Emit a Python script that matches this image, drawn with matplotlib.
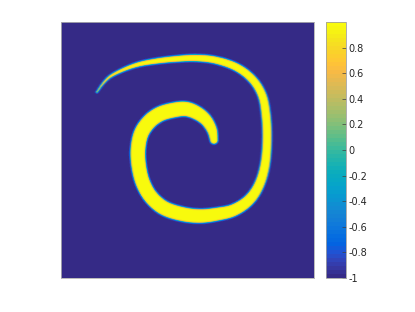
import numpy as np
import matplotlib
matplotlib.use("Agg")
import matplotlib.pyplot as plt
from matplotlib.colors import LinearSegmentedColormap

# spiral centre line (grid cells of a 256x256 field), inner tip -> outer tail
spiral_x = [154.8, 152.8, 146.7, 137.6, 126.5, 114.3, 100.2, 89.0, 81.0, 77.9, 78.9, 83.0,
            91.1, 104.2, 122.4, 140.7, 158.9, 175.1, 190.2, 200.4, 206.4, 208.5, 207.4,
            203.4, 193.3, 177.1, 155.8, 135.6, 115.4, 97.1, 79.9, 64.8, 50.6, 43.0, 36.4]
spiral_y = [118, 108, 98, 91, 87, 88, 92, 100, 112, 128, 145, 161,
            175, 186, 192, 194, 192, 188, 178, 163, 143, 118, 93,
            73, 57, 45, 38, 36, 37, 39, 42, 47, 54, 61, 70]
half_width = [3.8, 5.0, 6.0, 6.8, 7.3, 7.5, 7.5, 7.5, 7.5, 7.5, 7.4, 7.3,
              7.2, 7.2, 7.1, 6.9, 6.5, 6.0, 5.5, 5.0, 4.7, 4.5, 4.5,
              4.3, 4.1, 3.9, 3.6, 3.3, 3.0, 2.7, 2.3, 1.8, 1.3, 0.9, 0.5]

cbar_ticks = [-1, -0.8, -0.6, -0.4, -0.2, 0, 0.2, 0.4, 0.6, 0.8]
cbar_labels = ["-1", "-0.8", "-0.6", "-0.4", "-0.2", "0", "0.2", "0.4", "0.6", "0.8"]

# parula-like colormap
parula_pts = [
    (0.2081, 0.1663, 0.5292), (0.2123, 0.2138, 0.6270), (0.1959, 0.2645, 0.7279),
    (0.1253, 0.3242, 0.8303), (0.0117, 0.3875, 0.8820), (0.0165, 0.4266, 0.8786),
    (0.0498, 0.4586, 0.8641), (0.0723, 0.4887, 0.8467), (0.0793, 0.5200, 0.8312),
    (0.0641, 0.5570, 0.8240), (0.0343, 0.5966, 0.8199), (0.0239, 0.6287, 0.8038),
    (0.0228, 0.6535, 0.7768), (0.0384, 0.6743, 0.7436), (0.0843, 0.6928, 0.7062),
    (0.1453, 0.7098, 0.6646), (0.2178, 0.7250, 0.6193), (0.3022, 0.7376, 0.5712),
    (0.3953, 0.7459, 0.5244), (0.4871, 0.7491, 0.4840), (0.5709, 0.7485, 0.4494),
    (0.6473, 0.7456, 0.4188), (0.7184, 0.7411, 0.3905), (0.7858, 0.7356, 0.3633),
    (0.8507, 0.7299, 0.3360), (0.9139, 0.7258, 0.3063), (0.9739, 0.7314, 0.2666),
    (0.9990, 0.7653, 0.2164), (0.9880, 0.8066, 0.1794), (0.9697, 0.8481, 0.1475),
    (0.9589, 0.8949, 0.1132), (0.9661, 0.9514, 0.0755), (0.9763, 0.9831, 0.0538)]
parula = LinearSegmentedColormap.from_list("parula", parula_pts, N=64)


def catmull_rom(pts, n=25):
    P = np.vstack([pts[0], pts, pts[-1]])
    out = []
    t = np.linspace(0, 1, n, endpoint=False)[:, None]
    for i in range(1, len(P) - 2):
        p0, p1, p2, p3 = P[i - 1], P[i], P[i + 1], P[i + 2]
        out.append(0.5 * (2 * p1 + (-p0 + p2) * t + (2 * p0 - 5 * p1 + 4 * p2 - p3) * t ** 2
                          + (-p0 + 3 * p1 - 3 * p2 + p3) * t ** 3))
    out.append(P[-2][None])
    return np.vstack(out)


curve = catmull_rom(np.column_stack([spiral_x, spiral_y, half_width]).astype(float))

n = 256
gx, gy = np.meshgrid(np.arange(n) + 0.5, np.arange(n) + 0.5)
d = np.full(gx.shape, 1e9)
for cx, cy, hw in curve:
    d = np.minimum(d, np.hypot(gx - cx, gy - cy) - hw)
field = -np.tanh(d / 0.9)

fig = plt.figure(figsize=(4.15, 3.12), dpi=100)
ax = fig.add_axes([0.147, 0.109, 0.6096, 0.8205])
im = ax.imshow(field, cmap=parula, vmin=-1, vmax=1, extent=(0, n, n, 0),
               aspect="auto", interpolation="bilinear")
ax.set_xticks([])
ax.set_yticks([])
for s in ax.spines.values():
    s.set_color("#b0b0b0")
    s.set_linewidth(0.6)

cax = fig.add_axes([0.7855, 0.109, 0.048, 0.8205])
cb = fig.colorbar(im, cax=cax, ticks=cbar_ticks)
cb.ax.set_yticklabels(cbar_labels)
cb.ax.tick_params(direction="in", length=3, width=0.5, labelsize=7,
                  color="#404040", labelcolor="#262626", pad=2)
cb.outline.set_edgecolor("#a0a0a0")
cb.outline.set_linewidth(0.6)

fig.savefig("out.png", dpi=100)
